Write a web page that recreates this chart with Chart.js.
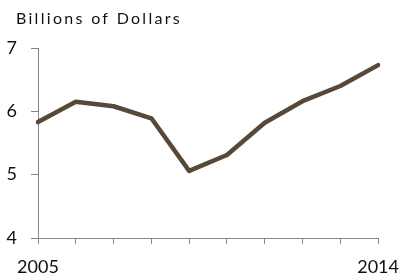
<!DOCTYPE html>
<html>
<head>
<meta charset="utf-8">
<script src="https://cdn.jsdelivr.net/npm/chart.js@4/dist/chart.umd.min.js"></script>
<style>
  html, body { margin: 0; padding: 0; background: #fff; }
  #wrap { width: 411px; height: 278px; position: relative; }
</style>
</head>
<body>
<div id="wrap"><canvas id="c" width="411" height="278"></canvas></div>
<script>
const chartTitle = "Billions of Dollars";
const years = ["2005","2006","2007","2008","2009","2010","2011","2012","2013","2014"];
const values = [5.83, 6.15, 6.08, 5.89, 5.06, 5.31, 5.82, 6.16, 6.40, 6.73];
const shownYearLabels = ["2005", "2014"];
const yMin = 4, yMax = 7, yStep = 1;

const FONT = "Lato, 'DejaVu Sans', sans-serif";
const AXIS = "#878787";

const titlePlugin = {
  id: 'topTitle',
  afterDraw(chart) {
    const ctx = chart.ctx;
    ctx.save();
    ctx.letterSpacing = '2.3px';
    ctx.font = "16px " + FONT;
    ctx.fillStyle = "#111";
    ctx.textAlign = "left";
    ctx.textBaseline = "alphabetic";
    ctx.fillText(chartTitle, 16, 24);
    ctx.restore();
  }
};

new Chart(document.getElementById('c'), {
  type: 'line',
  data: {
    labels: years,
    datasets: [{
      data: values,
      borderColor: '#584838',
      borderWidth: 4.5,
      borderCapStyle: 'round',
      borderJoinStyle: 'round',
      pointRadius: 0,
      tension: 0,
      fill: false
    }]
  },
  options: {
    responsive: false,
    animation: false,
    devicePixelRatio: 1,
    layout: { padding: { top: 48, right: 31, bottom: 0, left: 0 } },
    plugins: { legend: { display: false }, tooltip: { enabled: false }, title: { display: false } },
    scales: {
      x: {
        type: 'category',
        offset: false,
        grid: { display: true, drawOnChartArea: false, drawTicks: true, tickLength: 6, color: AXIS, lineWidth: 1 },
        border: { display: true, color: AXIS, width: 1 },
        ticks: {
          autoSkip: false,
          maxRotation: 0,
          padding: 12,
          color: '#111',
          font: { family: FONT, size: 18 },
          callback: function(v) { const l = this.getLabelForValue(v); return shownYearLabels.includes(l) ? l : ''; }
        },
        afterFit(scale) { scale.height = 40; }
      },
      y: {
        min: yMin, max: yMax,
        grid: { display: true, drawOnChartArea: false, drawTicks: true, tickLength: 7, color: AXIS, lineWidth: 1 },
        border: { display: true, color: AXIS, width: 1 },
        ticks: {
          stepSize: yStep,
          padding: 14,
          color: '#111',
          font: { family: FONT, size: 18 }
        },
        afterFit(scale) { scale.width = 38; }
      }
    }
  },
  plugins: [titlePlugin]
});
</script>
</body>
</html>
